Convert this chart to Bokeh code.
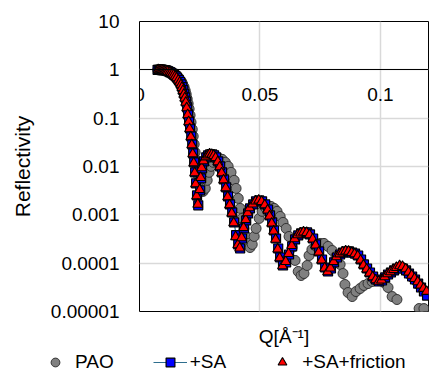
from bokeh.plotting import figure
from bokeh.layouts import column
from bokeh.models import Range1d, FixedTicker, LinearAxis, Legend, LegendItem
from bokeh.embed import file_html
from bokeh.resources import INLINE

# ---- data ----
x_ticks = [0, 0.05, 0.1]
x_tick_labels = ["0", "0.05", "0.1"]
y_ticks = [0.00001, 0.0001, 0.001, 0.01, 0.1, 1.0, 10.0]
y_tick_labels = ["0.00001", "0.0001", "0.001", "0.01", "0.1", "1", "10"]
series_names = ["PAO", "+SA", "+SA+friction"]

pao_q = [0.0076, 0.0082, 0.0088, 0.0094, 0.0100, 0.0106, 0.0112,
         0.0118, 0.0124, 0.0130, 0.0136, 0.0142, 0.0148, 0.0155, 0.0161, 0.0167, 0.0173,
         0.0179, 0.0185, 0.0190, 0.0194, 0.0198, 0.0202, 0.0206, 0.0210, 0.0214, 0.0219,
         0.0223, 0.0227, 0.0231, 0.0235, 0.0239, 0.0244, 0.0248, 0.0256, 0.0264, 0.0273,
         0.0281, 0.0289, 0.0297, 0.0306, 0.0318, 0.0331, 0.0343, 0.0356, 0.0368, 0.0380,
         0.0393, 0.0401, 0.0410, 0.0418, 0.0426, 0.0434, 0.0443, 0.0451, 0.0459, 0.0468,
         0.0476, 0.0484, 0.0497, 0.0509, 0.0522, 0.0534, 0.0546, 0.0559, 0.0571, 0.0584,
         0.0596, 0.0609, 0.0621, 0.0634, 0.0646, 0.0659, 0.0671, 0.0683, 0.0696, 0.0704,
         0.0716, 0.0733, 0.0750, 0.0766, 0.0783, 0.0800, 0.0816, 0.0833, 0.0845, 0.0853,
         0.0866, 0.0883, 0.0899, 0.0916, 0.0932, 0.0949, 0.0966, 0.0982, 0.0999, 0.1015,
         0.1032, 0.1049, 0.1069, 0.1090, 0.1115, 0.1140, 0.1161, 0.1181]
pao_r = [1.0, 1.0, 1.0, 1.0, 1.0, 0.99, 0.98,
         0.96, 0.935, 0.91, 0.88, 0.84, 0.80, 0.75, 0.70, 0.64, 0.58,
         0.51, 0.44, 0.37, 0.31, 0.25, 0.200, 0.155, 0.1145, 0.082, 0.0587,
         0.0421, 0.0288, 0.0196, 0.0134, 0.00916, 0.00656, 0.00492, 0.0037, 0.00305, 0.00352,
         0.00517, 0.00757, 0.01007, 0.0122, 0.01406, 0.01475, 0.01406, 0.0122, 0.01007, 0.00757,
         0.00517, 0.00352, 0.00219, 0.00136, 0.000843, 0.000523, 0.000357, 0.000256, 0.000211, 0.000244,
         0.000357, 0.000523, 0.000843, 0.00118, 0.00143, 0.00149, 0.00149, 0.00136, 0.00118, 0.000927,
         0.000697, 0.000523, 0.000357, 0.000211, 0.000114, 0.0000673, 0.0000556, 0.0000611, 0.0000895, 0.000144,
         0.000192, 0.000222, 0.000256, 0.000256, 0.000222, 0.000183, 0.000137, 0.000094, 0.0000611, 0.0000362,
         0.0000247, 0.0000204, 0.0000259, 0.0000299, 0.0000345, 0.0000379, 0.0000418, 0.0000438, 0.0000438, 0.0000398,
         0.0000314, 0.0000204, 0.0000177, 0.000006, 0.000005, 0.000007, 0.0000115, 0.0000115]

sa_q = [0.0075, 0.0080, 0.0085, 0.0090, 0.0095, 0.0100,
        0.0105, 0.0110, 0.0115, 0.0120, 0.0126, 0.0132, 0.0138, 0.0144, 0.0150, 0.0156,
        0.0163, 0.0169, 0.0174, 0.0178, 0.0182, 0.0186, 0.0190, 0.0194, 0.0198, 0.0202,
        0.0206, 0.0210, 0.0215, 0.0219, 0.0223, 0.0227, 0.0231, 0.0235, 0.0239, 0.0244,
        0.0252, 0.0256, 0.0260, 0.0268, 0.0277, 0.0285, 0.0293, 0.0302, 0.0310, 0.0318,
        0.0327, 0.0335, 0.0343, 0.0351, 0.0360, 0.0368, 0.0376, 0.0385, 0.0393, 0.0401,
        0.0410, 0.0418, 0.0426, 0.0434, 0.0443, 0.0451, 0.0459, 0.0472, 0.0484, 0.0497,
        0.0509, 0.0522, 0.0534, 0.0542, 0.0551, 0.0559, 0.0567, 0.0576, 0.0584, 0.0596,
        0.0609, 0.0621, 0.0634, 0.0646, 0.0659, 0.0671, 0.0683, 0.0696, 0.0708, 0.0721,
        0.0733, 0.0746, 0.0758, 0.0771, 0.0783, 0.0795, 0.0808, 0.0820, 0.0833, 0.0845,
        0.0858, 0.0870, 0.0883, 0.0895, 0.0908, 0.0920, 0.0932, 0.0945, 0.0957, 0.0970,
        0.0982, 0.0995, 0.1007, 0.1020, 0.1032, 0.1044, 0.1057, 0.1069, 0.1082, 0.1094,
        0.1107, 0.1119, 0.1132, 0.1144, 0.1157, 0.1169, 0.1181, 0.1194]
sa_r = [1.0, 1.0, 1.0, 1.0, 0.99, 0.99,
        0.98, 0.97, 0.95, 0.93, 0.90, 0.87, 0.83, 0.79, 0.74, 0.69,
        0.62, 0.56, 0.50, 0.44, 0.38, 0.32, 0.27, 0.220, 0.168, 0.120,
        0.0861, 0.0617, 0.0421, 0.0288, 0.0187, 0.0122, 0.00757, 0.00448, 0.00252, 0.00157,
        0.00321, 0.00568, 0.00916, 0.0128, 0.0155, 0.0170, 0.0178, 0.0178, 0.0170, 0.0155,
        0.0128, 0.0101, 0.00757, 0.00541, 0.0037, 0.0024, 0.00164, 0.00112, 0.000697, 0.000380,
        0.000244, 0.000201, 0.000324, 0.000523, 0.000766, 0.00107, 0.00136, 0.00164, 0.0019, 0.00199,
        0.0019, 0.00164, 0.00129, 0.000972, 0.000697, 0.000475, 0.000324, 0.000201, 0.000131, 0.0000895,
        0.000104, 0.000151, 0.000222, 0.00031, 0.000375, 0.000412, 0.000432, 0.000432, 0.000393, 0.000324,
        0.000244, 0.000175, 0.000119, 0.0000814, 0.0000673, 0.0000776, 0.000104, 0.000131, 0.000151, 0.000166,
        0.000175, 0.000175, 0.000166, 0.000158, 0.000144, 0.000119, 0.000094, 0.0000776, 0.0000641, 0.000053,
        0.0000459, 0.0000418, 0.0000438, 0.0000506, 0.0000583, 0.0000641, 0.0000706, 0.0000776, 0.0000814, 0.0000776,
        0.0000706, 0.0000611, 0.000053, 0.0000459, 0.0000379, 0.0000314, 0.0000259, 0.0000214]

fr_q = [0.0078, 0.0083, 0.0088, 0.0093, 0.0098,
        0.0103, 0.0108, 0.0113, 0.0118, 0.0124, 0.0130, 0.0136, 0.0142, 0.0148, 0.0154,
        0.0161, 0.0167, 0.0172, 0.0176, 0.0180, 0.0184, 0.0188, 0.0192, 0.0196, 0.0200,
        0.0204, 0.0208, 0.0213, 0.0217, 0.0221, 0.0225, 0.0229, 0.0233, 0.0237, 0.0242,
        0.0250, 0.0254, 0.0258, 0.0266, 0.0275, 0.0283, 0.0291, 0.0300, 0.0308, 0.0316,
        0.0325, 0.0333, 0.0341, 0.0349, 0.0358, 0.0366, 0.0374, 0.0383, 0.0391, 0.0399,
        0.0408, 0.0416, 0.0424, 0.0432, 0.0441, 0.0449, 0.0457, 0.0470, 0.0482, 0.0495,
        0.0507, 0.0520, 0.0532, 0.0540, 0.0549, 0.0557, 0.0565, 0.0574, 0.0582, 0.0594,
        0.0607, 0.0619, 0.0632, 0.0644, 0.0657, 0.0669, 0.0681, 0.0694, 0.0706, 0.0719,
        0.0731, 0.0744, 0.0756, 0.0769, 0.0781, 0.0793, 0.0806, 0.0818, 0.0831, 0.0843,
        0.0856, 0.0868, 0.0881, 0.0893, 0.0906, 0.0918, 0.0930, 0.0943, 0.0955, 0.0968,
        0.0980, 0.0993, 0.1005, 0.1018, 0.1030, 0.1042, 0.1055, 0.1067, 0.1080, 0.1092,
        0.1105, 0.1117, 0.1130, 0.1142, 0.1155, 0.1167, 0.1179, 0.1192]
fr_r = [1.0, 0.99, 0.99, 0.99, 0.98,
        0.97, 0.96, 0.94, 0.92, 0.89, 0.86, 0.82, 0.78, 0.73, 0.68,
        0.61, 0.55, 0.49, 0.43, 0.37, 0.31, 0.26, 0.212, 0.163, 0.117,
        0.0840, 0.0600, 0.0410, 0.0280, 0.0182, 0.0118, 0.00735, 0.00435, 0.00245, 0.00165,
        0.00330, 0.00590, 0.00940, 0.0130, 0.0157, 0.0172, 0.0180, 0.0177, 0.0168, 0.0152,
        0.0125, 0.0098, 0.00735, 0.00525, 0.0036, 0.00235, 0.00160, 0.00108, 0.000680, 0.000350,
        0.000240, 0.000205, 0.000335, 0.000540, 0.000790, 0.00110, 0.00139, 0.00167, 0.00192, 0.00200,
        0.00188, 0.00160, 0.00125, 0.000940, 0.000670, 0.000460, 0.000310, 0.000195, 0.000128, 0.0000880,
        0.000108, 0.000158, 0.000230, 0.000318, 0.000385, 0.000420, 0.000440, 0.000428, 0.000385, 0.000315,
        0.000236, 0.000168, 0.000115, 0.0000790, 0.0000660, 0.0000790, 0.000107, 0.000135, 0.000155, 0.000170,
        0.000178, 0.000176, 0.000165, 0.000155, 0.000140, 0.000115, 0.0000910, 0.0000750, 0.0000620, 0.0000520,
        0.0000450, 0.0000420, 0.0000445, 0.0000520, 0.0000600, 0.0000660, 0.0000730, 0.0000810, 0.0000880, 0.0000850,
        0.0000760, 0.0000650, 0.0000560, 0.0000480, 0.0000410, 0.0000350, 0.0000300, 0.0000260]

FONT = "Liberation Sans"
FS = "19px"

PAO_STYLE = dict(marker="circle", size=10, fill_color="#808080", line_color="#333333", line_width=1)
SA_LINE_STYLE = dict(line_color="#2e6e8e", line_width=1.2)
SA_STYLE = dict(marker="square", size=9, fill_color="#0000ff", line_color="#000000", line_width=1.2)
FR_STYLE = dict(marker="triangle", size=10, fill_color="#ff0000", line_color="#000000", line_width=1.1)

# ---------------- main chart ----------------
p = figure(width=432, height=349, x_range=Range1d(0, 0.12), y_range=Range1d(0.00001, 10),
           y_axis_type="log", output_backend="svg", toolbar_location=None,
           min_border_left=139, min_border_right=4, min_border_top=21, min_border_bottom=38)
p.background_fill_color = "white"
p.border_fill_color = "white"
p.outline_line_color = "black"
p.outline_line_width = 1

# x axis drawn at y = 1 (as in the original)
xa = p.xaxis[0]
xa.ticker = FixedTicker(ticks=x_ticks)
xa.major_label_overrides = dict(zip(x_ticks, x_tick_labels))
xa.fixed_location = 1
xa.axis_line_color = "black"
xa.axis_line_width = 1
xa.major_tick_line_color = None
xa.minor_tick_line_color = None
xa.major_tick_out = 0
xa.major_tick_in = 0
xa.minor_tick_out = 0
xa.minor_tick_in = 0
xa.major_label_standoff = 18
xa.major_label_text_font = FONT
xa.major_label_text_font_size = FS
xa.major_label_text_color = "black"

ya = p.yaxis[0]
ya.ticker = FixedTicker(ticks=y_ticks)
ya.major_label_overrides = dict(zip(y_ticks, y_tick_labels))
ya.axis_line_color = None
ya.major_tick_line_color = None
ya.minor_tick_line_color = None
ya.major_tick_out = 0
ya.major_tick_in = 0
ya.minor_tick_out = 0
ya.minor_tick_in = 0
ya.major_label_standoff = 20
ya.major_label_text_font = FONT
ya.major_label_text_font_size = FS
ya.major_label_text_color = "black"
ya.axis_label = "Reflectivity"
ya.axis_label_standoff = 14
ya.axis_label_text_font = FONT
ya.axis_label_text_font_size = "21px"
ya.axis_label_text_font_style = "normal"
ya.axis_label_text_color = "black"

title_axis = LinearAxis(ticker=FixedTicker(ticks=[]), axis_label="Q[Å⁻¹]",
                        axis_line_color=None, major_tick_line_color=None, minor_tick_line_color=None,
                        major_tick_out=0, major_tick_in=0, minor_tick_out=0, minor_tick_in=0,
                        major_label_text_font_size="0px", axis_label_standoff=14,
                        axis_label_text_font=FONT, axis_label_text_font_size=FS,
                        axis_label_text_font_style="normal", axis_label_text_color="black")
p.add_layout(title_axis, "below")

p.xgrid.grid_line_color = "#d9d9d9"
p.xgrid.grid_line_width = 1.5
p.ygrid.grid_line_color = "#d9d9d9"
p.ygrid.grid_line_width = 1.5

p.scatter(pao_q, pao_r, **PAO_STYLE)
p.line(sa_q, sa_r, **SA_LINE_STYLE)
p.scatter(sa_q, sa_r, **SA_STYLE)
p.scatter(fr_q, fr_r, **FR_STYLE)

# ---------------- legend strip ----------------
# legend keys reuse each series' first point; the strip's ranges keep them out of view
lg = figure(width=432, height=24, x_range=Range1d(1, 2), y_range=Range1d(1, 2),
            x_axis_type=None, y_axis_type=None, output_backend="svg", toolbar_location=None,
            min_border=0, outline_line_color=None)
if "frame_align" in lg.properties():
    lg.frame_align = False
lg.grid.visible = False
k_pao = lg.scatter(pao_q[:1], pao_r[:1], **PAO_STYLE)
k_sa_line = lg.line(sa_q[:2], sa_r[:2], **SA_LINE_STYLE)
k_sa = lg.scatter(sa_q[:1], sa_r[:1], **SA_STYLE)
k_fr = lg.scatter(fr_q[:1], fr_r[:1], **FR_STYLE)

legend = Legend(items=[LegendItem(label=series_names[0], renderers=[k_pao]),
                       LegendItem(label=series_names[1], renderers=[k_sa_line, k_sa]),
                       LegendItem(label=series_names[2], renderers=[k_fr])],
                orientation="horizontal", location=(38, 0),
                glyph_width=34, glyph_height=22, label_height=22, label_standoff=3,
                spacing=39, padding=0, margin=0, border_line_color=None,
                background_fill_alpha=0, label_text_font=FONT, label_text_font_size=FS,
                label_text_color="black")
lg.add_layout(legend, "center")

layout = column(p, lg, spacing=0)
open("out.html", "w").write(file_html(layout, INLINE))
